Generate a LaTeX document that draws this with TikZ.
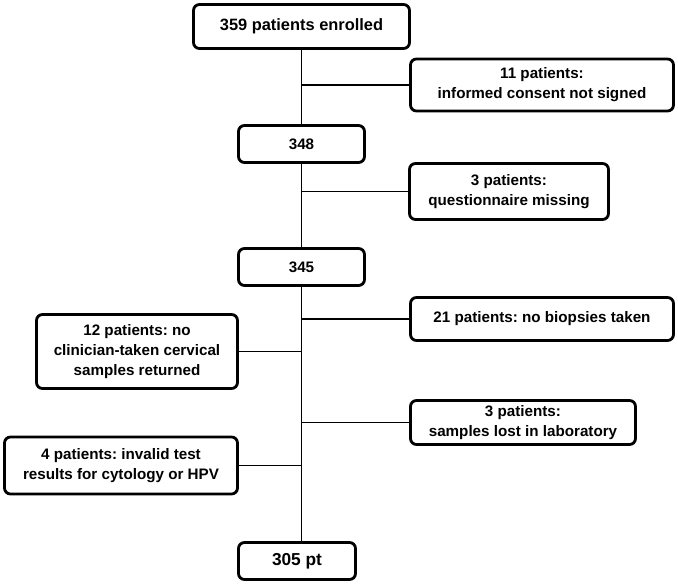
\documentclass[tikz,border=0pt]{standalone}
\usepackage{fontspec}
\setmainfont{Liberation Sans}
\usepackage{tikz}
\usetikzlibrary{positioning}
\frenchspacing

\begin{document}
\begin{tikzpicture}[
x=1pt, y=-1pt,
box/.style={rectangle, rounded corners=6pt, draw=black, line width=2.8pt, fill=white, align=center, inner sep=0pt, font=\bfseries\fontsize{15.2}{20}\selectfont},
numbox/.style={box, minimum width=126pt, minimum height=37pt},
]
\useasboundingbox (0,0) rectangle (678,585);
%Nodes
\node[box, minimum width=216pt, minimum height=44pt, font=\bfseries\fontsize{16.4}{20}\selectfont] (enrolled) at (301.5,26.5) {359 patients enrolled};
\node[box, minimum width=263pt, minimum height=52pt] (consent) at (542,85) {11 patients:\\ informed consent not signed};
\node[numbox] (n348) at (301.5,144) {348};
\node[box, minimum width=199pt, minimum height=56pt] (quest) at (509,191.5) {3 patients:\\ questionnaire missing};
\node[numbox] (n345) at (301.5,267) {345};
\node[box, minimum width=263pt, minimum height=43pt] (biopsy) at (542,319) {21 patients: no biopsies taken};
\node[box, minimum width=201pt, minimum height=74pt] (clinician) at (137,351.5) {12 patients: no\\ clinician-taken cervical\\ samples returned};
\node[box, minimum width=225pt, minimum height=44pt] (lost) at (523,422.5) {3 patients:\\ samples lost in laboratory};
\node[box, minimum width=233pt, minimum height=57pt] (invalid) at (121,465.5) {4 patients: invalid test\\ results for cytology or HPV};
\node[box, minimum width=117pt, minimum height=37pt, font=\bfseries\fontsize{17.3}{20}\selectfont] (final) at (297,561) {305 pt};

%Lines
\begin{scope}[line width=1.1pt]
\draw (enrolled.south) -- (n348.north);
\draw (n348.south) -- (n345.north);
\draw (n345.south) -- (n345.south |- final.north);
\draw (consent.west) -- (consent.west -| enrolled.south);
\draw (quest.west) -- (quest.west -| n348.south);
\draw (biopsy.west) -- (biopsy.west -| n345.south);
\draw (clinician.east) -- (clinician.east -| n345.south);
\draw (lost.west) -- (lost.west -| n345.south);
\draw (invalid.east) -- (invalid.east -| n345.south);
\end{scope}
\end{tikzpicture}
\end{document}
